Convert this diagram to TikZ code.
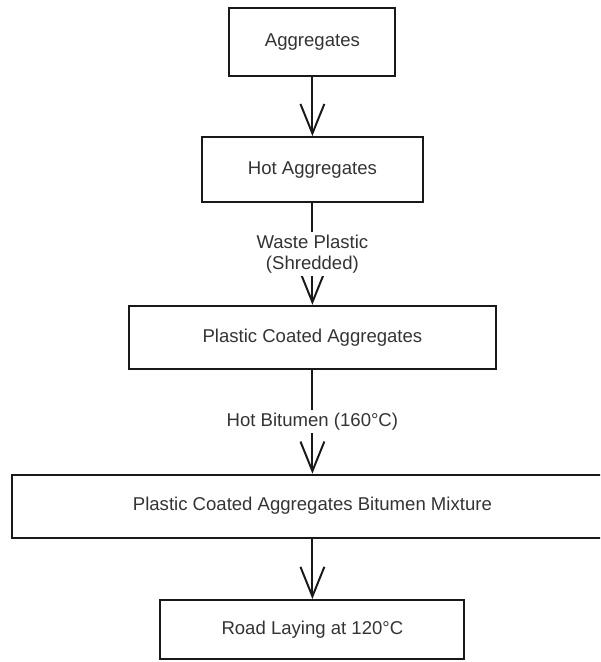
\documentclass[tikz,border=0pt]{standalone}
\usepackage{fontspec}
\setmainfont{Liberation Sans}
\usetikzlibrary{arrows.meta}

\begin{document}
\begin{tikzpicture}[every node/.style={font=\fontsize{13.2}{15}\selectfont, text=black!80},
    stage/.style={draw=black!90, line width=1.4pt, inner sep=0pt, align=center},
    flow/.style={draw=black!90, line width=1.4pt, -{Straight Barb[length=21pt,width=17pt]}},
    cond/.style={fill=white, inner sep=2pt, align=center}]
    \clip (0,0) rectangle (15,16.55);
    \node[stage, minimum width=4.15cm, minimum height=1.69cm](agg)at (7.81,15.5){Aggregates};
    \node[stage, minimum width=5.525cm, minimum height=1.625cm](hot)at (7.81,12.31){Hot Aggregates};
    \node[stage, minimum width=9.175cm, minimum height=1.58cm](pca)at (7.81,8.115){Plastic Coated Aggregates};
    \node[stage, minimum width=15cm, minimum height=1.575cm](mix)at (7.81,3.895){Plastic Coated Aggregates Bitumen Mixture};
    \node[stage, minimum width=7.6cm, minimum height=1.475cm](road)at (7.81,0.8125){Road Laying at 120°C};
    \draw[flow](agg)--(hot);
    \draw[flow](hot)--node[cond]{Waste Plastic\\(Shredded)}(pca);
    \draw[flow](pca)--node[cond]{Hot Bitumen (160°C)}(mix);
    \draw[flow](mix)--(road);
\end{tikzpicture}
\end{document}
